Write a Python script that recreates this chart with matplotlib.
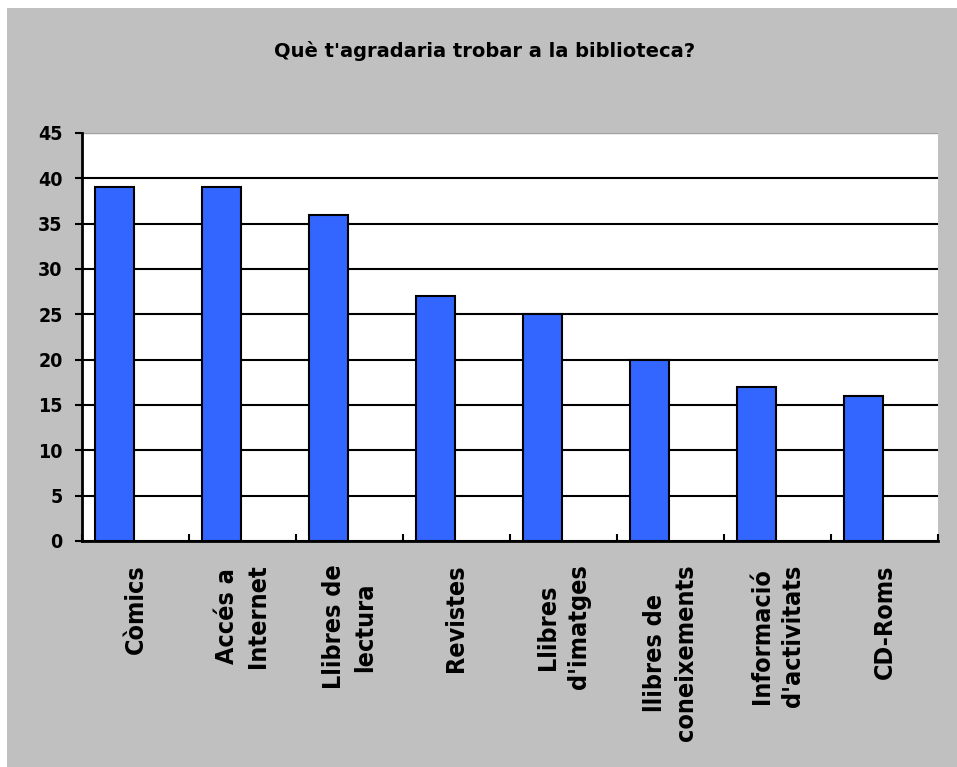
"""Bar chart: what pupils would like to find at the library."""

from __future__ import annotations

import matplotlib

matplotlib.use("Agg")
import matplotlib.pyplot as plt
import numpy as np
from matplotlib.patches import Rectangle

TITLE = "Què t'agradaria trobar a la biblioteca?"
CATEGORIES = [
    "Còmics",
    "Accés a\nInternet",
    "Llibres de\nlectura",
    "Revistes",
    "Llibres\nd'imatges",
    "llibres de\nconeixements",
    "Informació\nd'activitats",
    "CD-Roms",
]
VALUES = [39, 39, 36, 27, 25, 20, 17, 16]
Y_TICKS = [0, 5, 10, 15, 20, 25, 30, 35, 40, 45]

FONT = "DejaVu Sans"
GREY = "#C0C0C0"
BLUE = "#3366FF"


def create_chart(out_path: str = "out.png", dpi: int = 100) -> str:
    """Draw the chart and save it to out_path."""
    fig = plt.figure(figsize=(9.57, 7.67), dpi=dpi)
    fig.patch.set_facecolor("white")

    # Grey chart area, with the thin white margin at top and left
    fig.patches.append(
        Rectangle((7 / 957, 0), 1 - 7 / 957, 1 - 8 / 767,
                  transform=fig.transFigure, facecolor=GREY,
                  edgecolor="none", zorder=-5)
    )

    ax = fig.add_axes([82 / 957, 1 - 541 / 767, (938 - 82) / 957, (541 - 133) / 767])
    ax.set_zorder(2)
    ax.set_facecolor("white")

    x = np.arange(len(CATEGORIES))
    ax.bar(x - 0.197, VALUES, width=0.365, color=BLUE,
           edgecolor="black", linewidth=1.5, zorder=3)

    ax.set_xlim(-0.5, len(CATEGORIES) - 0.5)
    ax.set_ylim(0, 45)

    # Gridlines
    ax.set_yticks(Y_TICKS)
    ax.set_yticklabels([str(t) for t in Y_TICKS], family=FONT,
                       fontstretch="condensed", fontweight="bold", fontsize=14)
    ax.yaxis.grid(True, color="black", linewidth=1.5, zorder=1)
    ax.set_axisbelow(True)
    ax.get_ygridlines()[-1].set_color("#A0A0A0")
    ax.get_ygridlines()[-1].set_linewidth(1.0)
    ax.tick_params(axis="y", direction="out", length=5, width=1.5, pad=9)

    # Category boundaries get the ticks, centres get the labels
    ax.set_xticks(np.arange(len(CATEGORIES) + 1) - 0.5)
    ax.set_xticklabels([])
    ax.tick_params(axis="x", which="major", direction="in", length=5, width=1.5)
    ax.set_xticks(x, CATEGORIES, minor=True)
    ax.tick_params(axis="x", which="minor", length=0, pad=17)
    for lbl in ax.get_xticklabels(minor=True):
        lbl.set_rotation(90)
        lbl.set_ha("center")
        lbl.set_va("top")
        lbl.set_multialignment("center")
        lbl.set_family(FONT)
        lbl.set_fontstretch("condensed")
        lbl.set_fontweight("bold")
        lbl.set_fontsize(18)
        lbl.set_linespacing(1.4)

    for side in ("top", "right"):
        ax.spines[side].set_visible(False)
    for side in ("left", "bottom"):
        ax.spines[side].set_linewidth(2)
        ax.spines[side].set_color("black")

    fig.text(485 / 957, 1 - 51 / 767, TITLE, ha="center", va="center",
             family=FONT, fontweight="bold", fontsize=14)

    fig.savefig(out_path, dpi=dpi, facecolor=fig.get_facecolor())
    return out_path


if __name__ == "__main__":
    create_chart()
